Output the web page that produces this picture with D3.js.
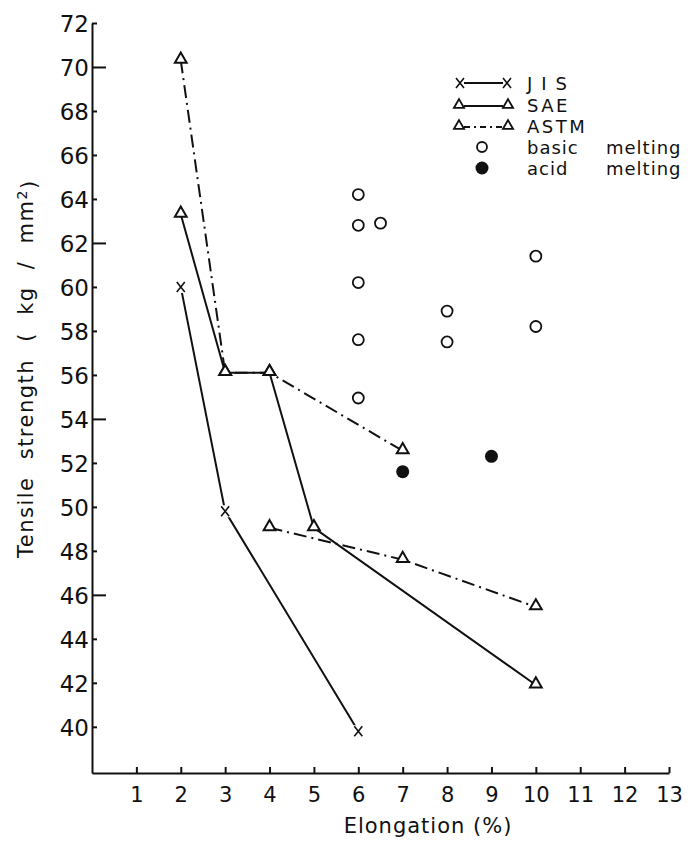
<!DOCTYPE html>
<html>
<head>
<meta charset="utf-8">
<script src="https://cdn.jsdelivr.net/npm/d3@7"></script>
<style>
  body { margin: 0; background: #fff; }
  svg { display: block; }
  text { font-family: "DejaVu Sans", sans-serif; fill: #111; }
</style>
</head>
<body>
<svg id="chart" width="699" height="845"></svg>
<script>
// tick labels
var xTicks = [1, 2, 3, 4, 5, 6, 7, 8, 9, 10, 11, 12, 13];
var yTicks = [40, 42, 44, 46, 48, 50, 52, 54, 56, 58, 60, 62, 64, 66, 68, 70, 72];
var yLongTicks = [46, 54, 62, 70];

// series
var jisX = [2, 3, 6];
var jisY = [60, 49.8, 39.8];
var saeX = [2, 3, 4, 5, 10];
var saeY = [63.3, 56.1, 56.1, 49.05, 41.9];
var astmUpperX = [2, 3, 4, 7];
var astmUpperY = [70.3, 56.1, 56.1, 52.55];
var astmLowerX = [4, 7, 10];
var astmLowerY = [49.05, 47.6, 45.45];
var basicX = [6, 6, 6.5, 6, 6, 6, 8, 8, 10, 10];
var basicY = [64.2, 62.8, 62.9, 60.2, 57.6, 54.95, 58.9, 57.5, 61.4, 58.2];
var acidX = [7, 9];
var acidY = [51.6, 52.3];

var legendLabels = ["JIS", "SAE", "ASTM", "basic", "acid"];
var legendTails = ["", "", "", "melting", "melting"];

function zip(xs, ys) {
    return xs.map(function (x, i) { return [x, ys[i]]; });
}

var svg = d3.select("#chart");

var x = d3.scaleLinear().domain([0, 13]).range([92, 669]);
var y = d3.scaleLinear().domain([37.9, 72]).range([773, 23]);

// y axis, ticks pointing into the plot
var yAxis = svg.append("g")
    .attr("transform", "translate(" + x(0) + ",0)")
    .call(d3.axisLeft(y).tickValues(yTicks).tickSize(-5).tickSizeOuter(0).tickPadding(3));
yAxis.selectAll(".tick line")
    .attr("x2", function (d) { return yLongTicks.indexOf(d) >= 0 ? 14 : 5; });
yAxis.selectAll(".tick text")
    .style("font-size", "23px")
    .attr("dy", "0.36em");

// x axis
var xAxis = svg.append("g")
    .attr("transform", "translate(0," + y(37.9) + ")")
    .call(d3.axisBottom(x).tickValues(xTicks).tickSize(-6).tickSizeOuter(0).tickPadding(14));
xAxis.selectAll(".tick text").style("font-size", "21px");

svg.selectAll(".domain, .tick line").attr("stroke", "#111").attr("stroke-width", 2);

// axis titles
svg.append("text")
    .attr("x", 428)
    .attr("y", 833)
    .attr("text-anchor", "middle")
    .style("font-size", "21px")
    .style("letter-spacing", "1px")
    .text("Elongation (%)");

var yTitle = svg.append("text")
    .attr("transform", "translate(33,558) rotate(-90)")
    .style("font-size", "21px")
    .style("letter-spacing", "1.5px")
    .style("word-spacing", "9px")
    .text("Tensile strength ( kg / mm");
yTitle.append("tspan").attr("dy", "-0.45em").style("font-size", "14px").text("2");
yTitle.append("tspan").attr("dy", "0.45em").text(")");

var line = d3.line()
    .x(function (d) { return x(d[0]); })
    .y(function (d) { return y(d[1]); });

var dashDot = "13,5,2,5";

function drawLine(pts, dash) {
    svg.append("path")
        .datum(pts)
        .attr("d", line)
        .attr("fill", "none")
        .attr("stroke", "#111")
        .attr("stroke-width", 2)
        .attr("stroke-dasharray", dash || null);
}

drawLine(zip(astmUpperX, astmUpperY), dashDot);
drawLine(zip(astmLowerX, astmLowerY), dashDot);
drawLine(zip(saeX, saeY));
drawLine(zip(jisX, jisY));

var tri = d3.symbol().type(d3.symbolTriangle).size(60);

function drawTriangles(pts) {
    svg.selectAll(null)
        .data(pts)
        .enter().append("path")
        .attr("d", tri)
        .attr("transform", function (d) { return "translate(" + x(d[0]) + "," + (y(d[1]) - 1) + ")"; })
        .attr("fill", "#fff")
        .attr("stroke", "#111")
        .attr("stroke-width", 2);
}

function drawCross(g, cx, cy) {
    g.append("path")
        .attr("d", "M" + (cx - 4) + "," + (cy - 5) + "L" + (cx + 4) + "," + (cy + 5) +
                   "M" + (cx + 4) + "," + (cy - 5) + "L" + (cx - 4) + "," + (cy + 5))
        .attr("stroke", "#111")
        .attr("stroke-width", 1.6);
}

drawTriangles(zip(saeX, saeY));
drawTriangles(zip(astmUpperX, astmUpperY));
drawTriangles(zip(astmLowerX, astmLowerY));

zip(jisX, jisY).forEach(function (d) {
    svg.append("rect")
        .attr("x", x(d[0]) - 5).attr("y", y(d[1]) - 6)
        .attr("width", 10).attr("height", 12)
        .attr("fill", "#fff");
    drawCross(svg, x(d[0]), y(d[1]));
});

svg.selectAll(".basic")
    .data(zip(basicX, basicY))
    .enter().append("circle")
    .attr("class", "basic")
    .attr("cx", function (d) { return x(d[0]); })
    .attr("cy", function (d) { return y(d[1]); })
    .attr("r", 5.5)
    .attr("fill", "#fff")
    .attr("stroke", "#111")
    .attr("stroke-width", 1.8);

svg.selectAll(".acid")
    .data(zip(acidX, acidY))
    .enter().append("circle")
    .attr("class", "acid")
    .attr("cx", function (d) { return x(d[0]); })
    .attr("cy", function (d) { return y(d[1]); })
    .attr("r", 6.5)
    .attr("fill", "#111");

// legend
var legend = svg.append("g");
var lx0 = 460, lx1 = 507, tx = 527;
var rows = [83, 105, 126, 147, 168];

legend.append("line").attr("x1", lx0 + 4).attr("x2", lx1 - 4).attr("y1", rows[0]).attr("y2", rows[0])
    .attr("stroke", "#111").attr("stroke-width", 2);
drawCross(legend, lx0, rows[0]);
drawCross(legend, lx1, rows[0]);

legend.append("line").attr("x1", lx0 + 4).attr("x2", lx1 - 4).attr("y1", rows[1] + 1).attr("y2", rows[1] + 1)
    .attr("stroke", "#111").attr("stroke-width", 2);
legend.append("line").attr("x1", lx0 + 4).attr("x2", lx1 - 4).attr("y1", rows[2] + 1).attr("y2", rows[2] + 1)
    .attr("stroke", "#111").attr("stroke-width", 2).attr("stroke-dasharray", "6,4,2,4");
[rows[1], rows[2]].forEach(function (ry) {
    [lx0 - 1, lx1 + 1].forEach(function (rx) {
        legend.append("path").attr("d", d3.symbol().type(d3.symbolTriangle).size(45))
            .attr("transform", "translate(" + rx + "," + ry + ")")
            .attr("fill", "#fff").attr("stroke", "#111").attr("stroke-width", 1.8);
    });
});
legend.append("circle").attr("cx", 482).attr("cy", rows[3]).attr("r", 5)
    .attr("fill", "#fff").attr("stroke", "#111").attr("stroke-width", 1.8);
legend.append("circle").attr("cx", 482).attr("cy", rows[4]).attr("r", 6.5).attr("fill", "#111");

legend.selectAll(".ltext")
    .data(legendLabels)
    .enter().append("text")
    .attr("class", "ltext")
    .attr("x", tx)
    .attr("y", function (d, i) { return rows[i] + 7; })
    .style("font-size", "18px")
    .style("letter-spacing", function (d, i) { return i === 0 ? "9px" : (i < 3 ? "2.5px" : "1px"); })
    .text(function (d) { return d; });

legend.selectAll(".ltail")
    .data(legendTails)
    .enter().append("text")
    .attr("class", "ltail")
    .attr("x", 606)
    .attr("y", function (d, i) { return rows[i] + 7; })
    .style("font-size", "18px")
    .style("letter-spacing", "1px")
    .text(function (d) { return d; });
</script>
</body>
</html>
